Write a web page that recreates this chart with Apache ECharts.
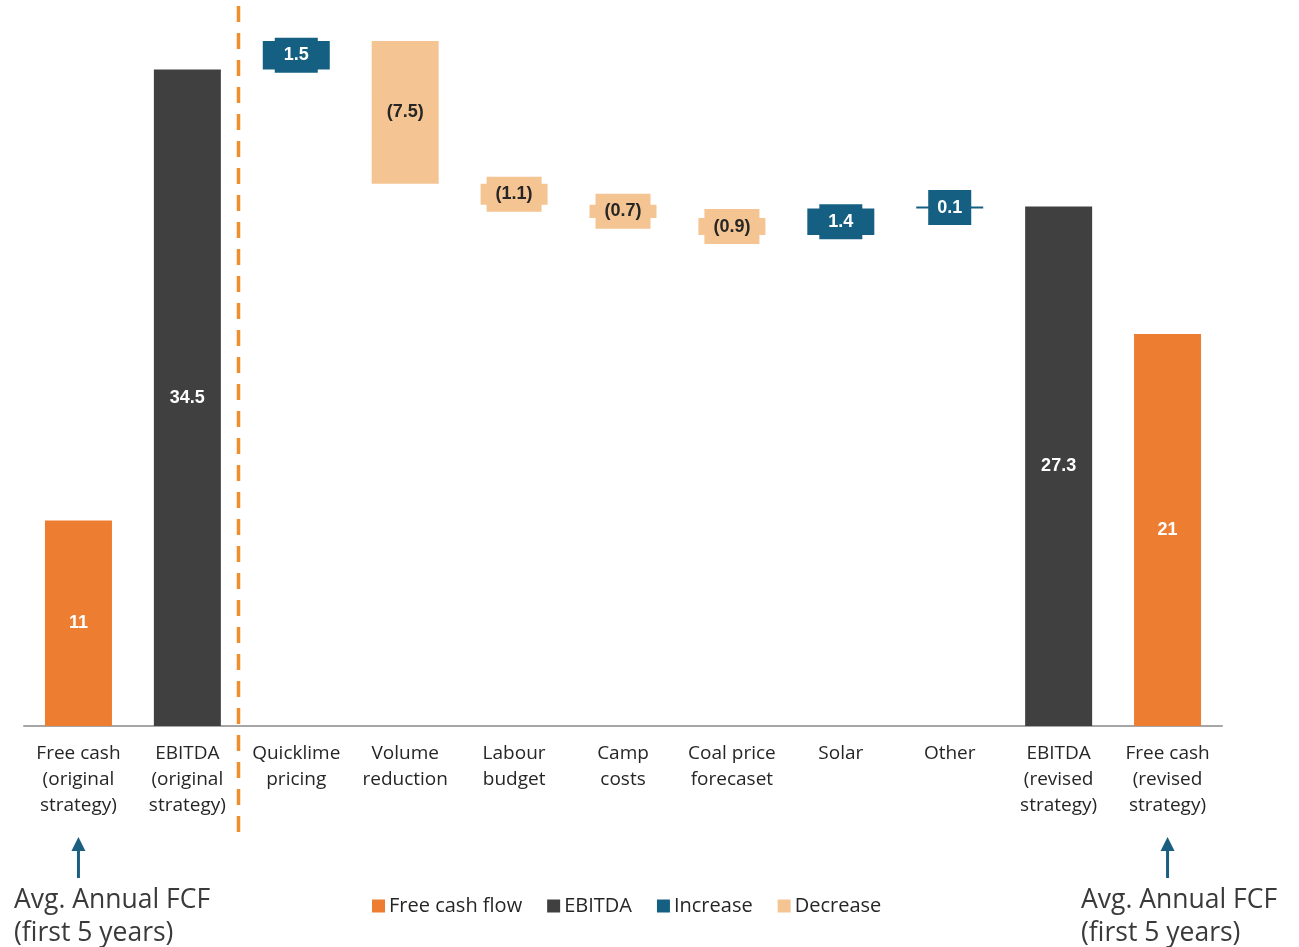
<!DOCTYPE html>
<html>
<head>
<meta charset="utf-8">
<script src="https://cdn.jsdelivr.net/npm/echarts@6/dist/echarts.min.js"></script>
<style>
html,body{margin:0;padding:0;background:#fff;}
#chart{width:1299px;height:947px;}
</style>
</head>
<body>
<div id="chart"></div>
<script>
const categories = ['Free cash\n(original\nstrategy)', 'EBITDA\n(original\nstrategy)', 'Quicklime\npricing', 'Volume\nreduction', 'Labour\nbudget', 'Camp\ncosts', 'Coal price\nforecaset', 'Solar', 'Other', 'EBITDA\n(revised\nstrategy)', 'Free cash\n(revised\nstrategy)'];
const freeCashOriginal = 10.8;
const freeCashRevised = 20.6;
const ebitdaOriginal = 34.5;
const changes = [1.5, -7.5, -1.1, -0.7, -0.9, 1.4, 0.1];
const legendNames = ['Free cash flow', 'EBITDA', 'Increase', 'Decrease'];
const annotationText = 'Avg. Annual FCF\n(first 5 years)';

const COLORS = { fcf: '#ED7D31', ebitda: '#404040', inc: '#156082', dec: '#F4C592' };
const n = categories.length;
const base = new Array(n).fill('-');
const fcfData = new Array(n).fill('-');
const ebitdaData = new Array(n).fill('-');
const incData = new Array(n).fill('-');
const decData = new Array(n).fill('-');

fcfData[0] = freeCashOriginal;
fcfData[n - 1] = freeCashRevised;
ebitdaData[1] = ebitdaOriginal;
let cum = ebitdaOriginal;
changes.forEach((d, k) => {
  const i = k + 2;
  const next = Math.round((cum + d) * 10) / 10;
  base[i] = Math.min(cum, next);
  if (d >= 0) incData[i] = d; else decData[i] = -d;
  cum = next;
});
ebitdaData[n - 2] = cum;

const chart = echarts.init(document.getElementById('chart'));
const FONT = '"Open Sans", sans-serif';
const LABEL_FONT = '"Liberation Sans", Arial, sans-serif';

const smallLabel = (color, textColor, fmt) => ({
  show: true,
  position: 'inside',
  formatter: fmt,
  color: textColor,
  fontFamily: LABEL_FONT,
  fontWeight: 'bold',
  fontSize: 18,
  lineHeight: 19,
  backgroundColor: color,
  padding: [8, 9]
});

chart.setOption({
  animation: false,
  grid: { left: 24, right: 77, top: 3, bottom: 221 },
  legend: {
    data: legendNames,
    bottom: 26,
    left: 367,
    itemWidth: 13,
    itemHeight: 13,
    itemGap: 25,
    icon: 'rect',
    textStyle: { fontFamily: FONT, fontSize: 20, color: '#262626', padding: [0, 0, 0, -1] }
  },
  xAxis: {
    type: 'category',
    data: categories,
    axisLine: { show: true, lineStyle: { color: '#A6A6A6', width: 2 } },
    axisTick: { show: false },
    axisLabel: {
      interval: 0,
      margin: 15,
      fontFamily: FONT,
      fontSize: 19,
      lineHeight: 26,
      color: '#262626'
    }
  },
  yAxis: { type: 'value', min: 0, max: 38, show: false, splitLine: { show: false } },
  series: [
    {
      name: 'base', type: 'bar', stack: 'wf', data: base, barWidth: 67,
      itemStyle: { color: 'transparent' }, silent: true, label: { show: false }
    },
    {
      name: 'Free cash flow', type: 'bar', stack: 'wf', data: fcfData, barWidth: 67,
      itemStyle: { color: COLORS.fcf },
      label: { show: true, position: 'inside', color: '#fff', fontFamily: LABEL_FONT, fontWeight: 'bold', fontSize: 18,
        formatter: p => String(Math.round(p.value)) }
    },
    {
      name: 'EBITDA', type: 'bar', stack: 'wf', data: ebitdaData, barWidth: 67,
      itemStyle: { color: COLORS.ebitda },
      label: { show: true, position: 'inside', color: '#fff', fontFamily: LABEL_FONT, fontWeight: 'bold', fontSize: 18,
        formatter: p => p.value.toFixed(1) }
    },
    {
      name: 'Increase', type: 'bar', stack: 'wf', data: incData, barWidth: 67,
      itemStyle: { color: COLORS.inc },
      label: smallLabel(COLORS.inc, '#fff', p => p.value.toFixed(1))
    },
    {
      name: 'Decrease', type: 'bar', stack: 'wf', data: decData, barWidth: 67,
      itemStyle: { color: COLORS.dec },
      label: smallLabel(COLORS.dec, '#262626', p => '(' + p.value.toFixed(1) + ')')
    }
  ]
});

function drawAnnotations() {
  const x0 = chart.convertToPixel({ xAxisIndex: 0 }, 0);
  const x1 = chart.convertToPixel({ xAxisIndex: 0 }, 1);
  const x2 = chart.convertToPixel({ xAxisIndex: 0 }, 2);
  const xLast = chart.convertToPixel({ xAxisIndex: 0 }, n - 1);
  const sepX = Math.round(x1 + (x2 - x1) * 0.465) + 0.5;
  const arrowColor = '#1A5F80';
  const arrow = (x) => ([
    { type: 'line', shape: { x1: x, y1: 878, x2: x, y2: 848 }, style: { stroke: arrowColor, lineWidth: 3 } },
    { type: 'polygon', shape: { points: [[x - 7, 851], [x + 7, 851], [x, 837]] }, style: { fill: arrowColor } }
  ]);
  const textFont = '26.5px "Open Sans", sans-serif';
  chart.setOption({
    graphic: [
      { type: 'line', shape: { x1: sepX, y1: 6, x2: sepX, y2: 834 },
        style: { stroke: '#EF8E2C', lineWidth: 3.5, lineDash: [16, 11] } },
      ...arrow(x0), ...arrow(xLast),
      { type: 'text', left: 14, top: 884, style: { text: annotationText, font: textFont, fill: '#3A3A3A', lineHeight: 33 } },
      { type: 'text', left: 1081, top: 884, style: { text: annotationText, font: textFont, fill: '#3A3A3A', lineHeight: 33 } }
    ]
  });
}
drawAnnotations();
</script>
</body>
</html>
